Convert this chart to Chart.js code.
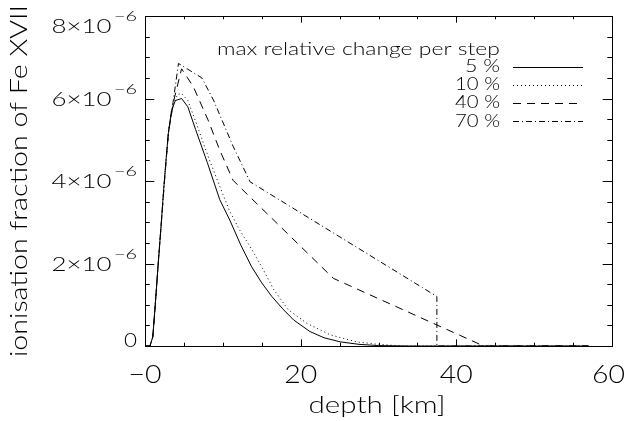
<!DOCTYPE html>
<html>
<head>
<meta charset="utf-8">
<script src="https://cdn.jsdelivr.net/npm/chart.js@4.4.1/dist/chart.umd.min.js"></script>
<style>
  body { margin: 0; background: #fff; overflow: hidden; }
  canvas { display: block; }
</style>
</head>
<body>
<canvas id="chart" width="626" height="421"></canvas>
<script>
  // depth in km, ionisation fraction in units of 1e-6
  var x5  = [0, 0.64, 1.0, 1.3, 1.7, 2.1, 2.4, 2.7, 3.0, 3.4, 3.9, 4.7, 5.5, 6.5, 8.0, 9.6, 10.9, 12.3, 13.7, 15.0, 16.3, 17.7, 19.1, 21.2, 23.0, 25.1, 27.5, 30.0, 34.0, 57.0];
  var y5  = [0, 0, 0.22, 0.95, 2.0, 3.0, 3.8, 4.5, 5.16, 5.7, 5.95, 6.0, 5.8, 5.25, 4.45, 3.55, 3.05, 2.45, 1.92, 1.53, 1.2, 0.9, 0.63, 0.35, 0.2, 0.1, 0.04, 0.01, 0, 0];

  var x10 = [0, 0.64, 1.0, 1.3, 1.7, 2.1, 2.4, 2.7, 3.1, 3.6, 4.2, 4.7, 5.5, 6.5, 8.2, 10.0, 10.9, 12.2, 13.5, 15.0, 16.5, 18.4, 20.8, 23.8, 27.2, 30.0, 33.0, 57.0];
  var y10 = [0, 0, 0.22, 0.95, 2.0, 3.0, 3.8, 4.5, 5.3, 5.85, 6.1, 6.12, 5.95, 5.45, 4.55, 3.68, 3.26, 2.8, 2.41, 1.92, 1.38, 0.88, 0.55, 0.27, 0.1, 0.04, 0, 0];

  var x40 = [0, 0.64, 1.0, 1.3, 1.7, 2.1, 2.5, 3.0, 3.7, 4.7, 6.2, 8.1, 9.6, 11.3, 12.2, 24.2, 43.5, 57.0];
  var y40 = [0, 0, 0.22, 0.95, 2.0, 3.0, 4.0, 5.16, 5.95, 6.72, 6.29, 5.48, 4.75, 4.02, 3.85, 1.64, 0, 0];

  var x70 = [0, 0.64, 1.0, 1.3, 1.7, 2.1, 2.5, 3.0, 3.6, 4.3, 7.3, 8.8, 11.35, 13.5, 37.5, 37.5, 57.0];
  var y70 = [0, 0, 0.22, 0.95, 2.0, 3.0, 4.0, 5.16, 5.9, 6.85, 6.5, 5.96, 4.83, 3.98, 1.2, 0, 0];

  var seriesLabels = ['5 %', '10 %', '40 %', '70 %'];
  var legendTitle = 'max relative change per step';

  var xMajor = [0, 20, 40, 60];
  var xTickLabels = ['\u22120', '20', '40', '60'];
  var xMinor = [5, 10, 15, 25, 30, 35, 45, 50, 55];
  var yMajor = [0, 2, 4, 6, 8];
  var yTickLabels = ['0', '2', '4', '6', '8'];
  var yMinor = [0.5, 1, 1.5, 2.5, 3, 3.5, 4.5, 5, 5.5, 6.5, 7, 7.5];

  var FONT = "Lato, 'DejaVu Sans', sans-serif";

  function pts(xs, ys) {
    return xs.map(function (x, i) { return { x: x, y: ys[i] }; });
  }

  // draw text stretched horizontally to a given width (Hershey glyphs are wide)
  function txt(ctx, s, x, y, size, w, align) {
    ctx.font = '300 ' + size + 'px ' + FONT;
    var nat = ctx.measureText(s).width;
    var sx = w ? w / nat : 1;
    var total = nat * sx;
    var x0 = align === 'right' ? x - total : align === 'center' ? x - total / 2 : x;
    ctx.save();
    ctx.translate(x0, y);
    ctx.scale(sx, 1);
    ctx.textAlign = 'left';
    ctx.fillText(s, 0, 0);
    ctx.restore();
  }

  var idlAxes = {
    id: 'idlAxes',
    afterDraw: function (chart) {
      var ctx = chart.ctx, a = chart.chartArea;
      var xs = chart.scales.x, ys = chart.scales.y;
      ctx.save();
      ctx.strokeStyle = '#000';
      ctx.fillStyle = '#000';
      ctx.lineWidth = 1;
      ctx.setLineDash([]);
      ctx.textBaseline = 'alphabetic';
      ctx.strokeRect(Math.round(a.left) + 0.5, Math.round(a.top) + 0.5,
        Math.round(a.right - a.left), Math.round(a.bottom - a.top));

      function xTick(v, len) {
        var px = Math.round(xs.getPixelForValue(v)) + 0.5;
        ctx.beginPath();
        ctx.moveTo(px, a.bottom); ctx.lineTo(px, a.bottom - len);
        ctx.moveTo(px, a.top); ctx.lineTo(px, a.top + len);
        ctx.stroke();
      }
      function yTick(v, len) {
        var py = Math.round(ys.getPixelForValue(v)) + 0.5;
        ctx.beginPath();
        ctx.moveTo(a.left, py); ctx.lineTo(a.left + len, py);
        ctx.moveTo(a.right, py); ctx.lineTo(a.right - len, py);
        ctx.stroke();
      }
      xMajor.forEach(function (v) { xTick(v, 6.6); });
      xMinor.forEach(function (v) { xTick(v, 3.3); });
      yMajor.forEach(function (v) { yTick(v, 9.3); });
      yMinor.forEach(function (v) { yTick(v, 4.7); });

      // x tick labels
      xMajor.forEach(function (v, i) {
        var px = xs.getPixelForValue(v);
        var s = xTickLabels[i];
        var w = s.length * 16.5;
        if (px + w / 2 > 625) px = 625 - w / 2;
        txt(ctx, s, px, 383, 25, w, 'center');
      });

      // y tick labels with superscript exponent
      yMajor.forEach(function (v, i) {
        var py = ys.getPixelForValue(v);
        py = Math.min(Math.max(py, a.top + 10), a.bottom - 6.5);
        var base = py + 7;
        if (v === 0) {
          txt(ctx, yTickLabels[i], 137, base, 20, 13, 'right');
        } else {
          txt(ctx, '\u22126', 137, base - 12, 14, 23, 'right');
          txt(ctx, yTickLabels[i] + '\u00d710', 111.5, base, 19.5, 60, 'right');
        }
      });

      // axis titles
      txt(ctx, 'depth [km]', 377, 413, 24, 137, 'center');
      ctx.save();
      ctx.translate(27, 181);
      ctx.rotate(-Math.PI / 2);
      txt(ctx, 'ionisation fraction of Fe XVII', 0, 0, 23, 352, 'center');
      ctx.restore();

      // legend
      txt(ctx, legendTitle, 217, 55, 18, 283, 'left');
      var rowBase = [72, 90, 108, 126.5];
      chart.data.datasets.forEach(function (ds, i) {
        var s = seriesLabels[i];
        txt(ctx, s, 500, rowBase[i], 17.5, s.length === 3 ? 35 : 45, 'right');
        var ly = Math.round(rowBase[i] - 5.5) + 0.5;
        ctx.beginPath();
        ctx.setLineDash(ds.borderDash || []);
        ctx.moveTo(513, ly);
        ctx.lineTo(583, ly);
        ctx.stroke();
      });
      ctx.restore();
    }
  };

  var config = {
    type: 'line',
    data: {
      datasets: [
        { label: seriesLabels[0], data: pts(x5, y5), borderDash: [] },
        { label: seriesLabels[1], data: pts(x10, y10), borderDash: [1, 3] },
        { label: seriesLabels[2], data: pts(x40, y40), borderDash: [8, 6] },
        { label: seriesLabels[3], data: pts(x70, y70), borderDash: [6, 3, 1, 3] }
      ]
    },
    options: {
      responsive: false,
      animation: false,
      devicePixelRatio: 1,
      layout: { padding: { left: 145, right: 14, top: 16, bottom: 75 } },
      elements: {
        point: { radius: 0 },
        line: { borderColor: '#000', borderWidth: 1, tension: 0, fill: false }
      },
      scales: {
        x: { type: 'linear', min: 0, max: 60, display: false },
        y: { type: 'linear', min: 0, max: 8, display: false }
      },
      plugins: { legend: { display: false }, tooltip: { enabled: false } }
    },
    plugins: [idlAxes]
  };

  var chart = new Chart(document.getElementById('chart'), config);
</script>
</body>
</html>
